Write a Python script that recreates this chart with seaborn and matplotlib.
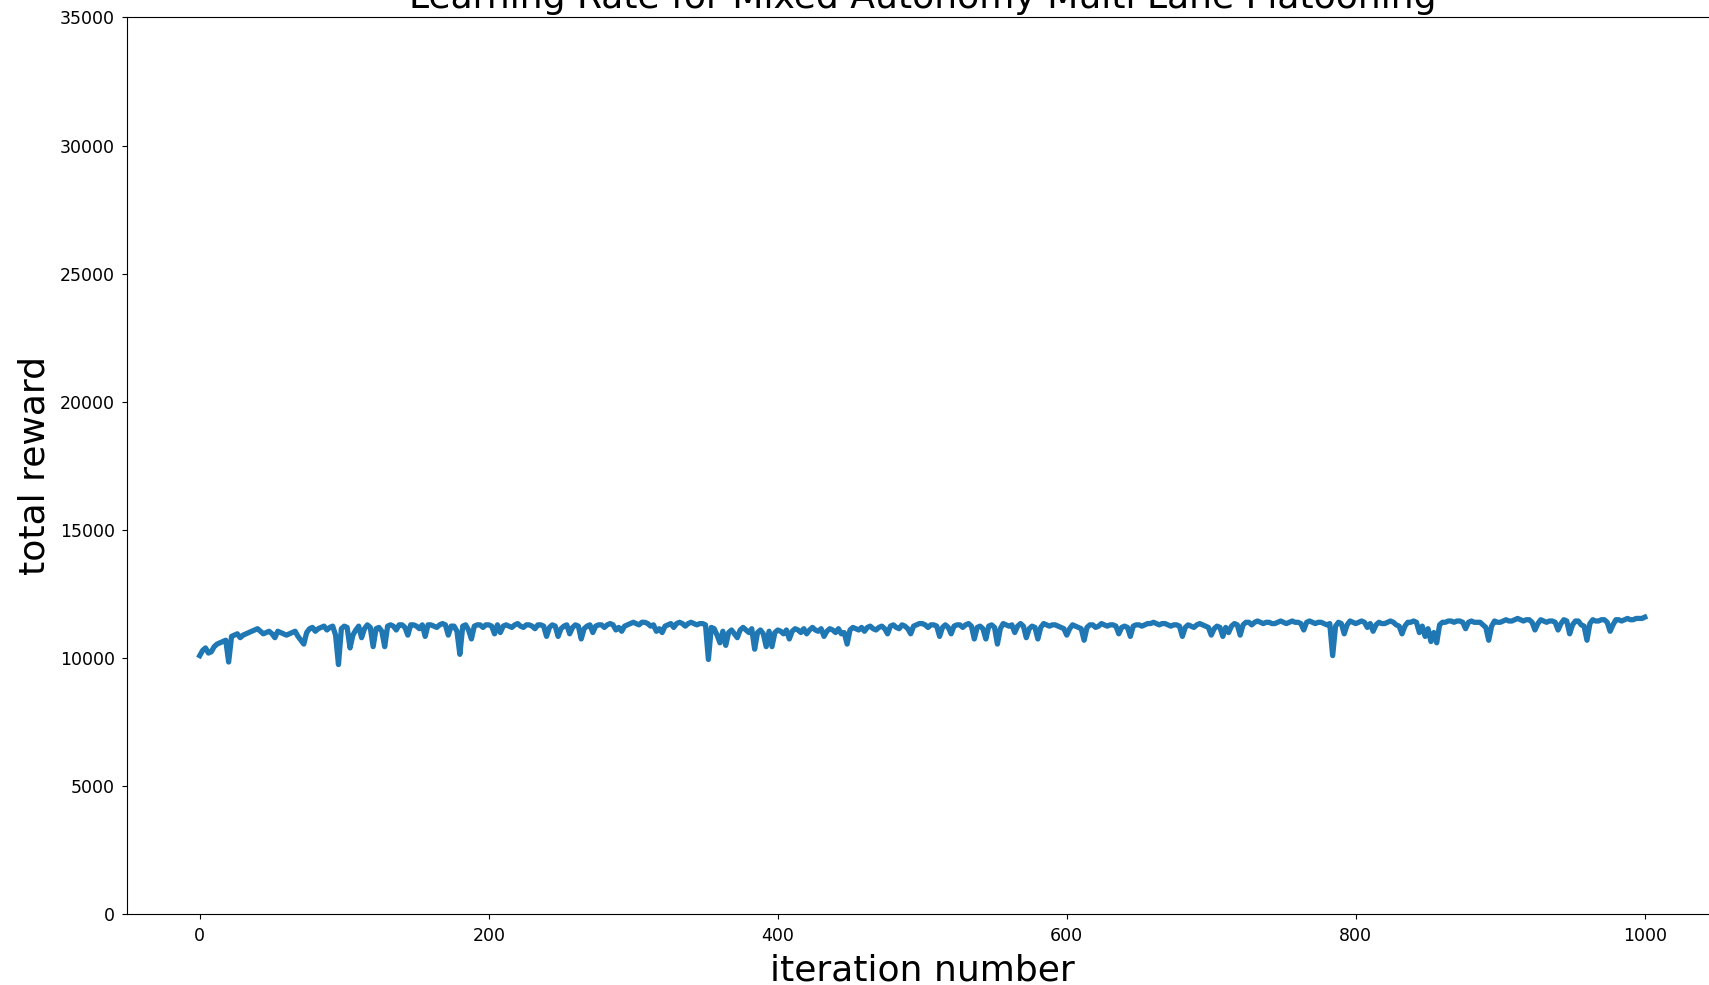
import numpy as np
import pandas as pd
import matplotlib
matplotlib.use("Agg")
import matplotlib.pyplot as plt
import seaborn as sns

# iteration numbers: readings every 4 iterations, plus readings half-way between
iter_main = list(range(0, 1001, 4))
iter_mid = list(range(2, 1000, 4))

# total reward at iterations 0, 4, 8, ... (per 100 iterations)
reward_000 = [10100, 10400, 10250, 10550, 10650, 9850, 10900, 10800, 10950, 11050,
              11150, 10950, 11050, 10800, 11000, 10900, 11000, 10850, 10550, 11150,
              11050, 11200, 11100, 11250, 9750]
reward_100 = [11250, 10400, 11100, 10800, 11300, 10450, 11200, 10450, 11300, 11100,
              11300, 10900, 11300, 11150, 10850, 11300, 11200, 11350, 10900, 11250,
              10150, 11300, 10750, 11300, 11200]
reward_200 = [11300, 10950, 11000, 11300, 11200, 11350, 11200, 11300, 11150, 11300,
              10850, 11300, 10850, 11250, 10950, 11300, 10750, 11250, 11000, 11300,
              11200, 11350, 11100, 11050, 11300]
reward_300 = [11400, 11300, 11400, 11250, 11050, 11000, 11300, 11200, 11400, 11250,
              11400, 11300, 11350, 9950, 11150, 10600, 10500, 11100, 10800, 11200,
              11000, 10350, 11100, 10450, 10450]
reward_400 = [11100, 10950, 10750, 11150, 11000, 10950, 11200, 11050, 10850, 11150,
              11000, 10950, 10550, 11200, 11100, 11050, 11250, 11100, 11250, 10950,
              11300, 11150, 11250, 10950, 11300]
reward_500 = [11350, 11200, 11300, 10850, 11300, 10950, 11300, 11200, 11350, 10750,
              11250, 10750, 11300, 10550, 11350, 11250, 11000, 11350, 10800, 11250,
              10750, 11350, 11250, 11300, 11200]
reward_600 = [10900, 11300, 11200, 10700, 11300, 11200, 11350, 11250, 11300, 10950,
              11250, 10850, 11300, 11250, 11350, 11400, 11300, 11350, 11250, 11300,
              10850, 11300, 11200, 11350, 11250]
reward_700 = [10900, 11250, 10850, 11000, 11350, 10900, 11400, 11300, 11450, 11350,
              11400, 11350, 11450, 11350, 11450, 11400, 11100, 11450, 11350, 11400,
              11300, 10100, 11400, 10950, 11450]
reward_800 = [11350, 11450, 11200, 11050, 11400, 11350, 11450, 11300, 10950, 11400,
              11450, 11000, 10850, 10650, 10600, 11400, 11450, 11400, 11450, 11150,
              11450, 11400, 11300, 10700, 11450]
reward_900 = [11400, 11500, 11450, 11550, 11450, 11500, 11100, 11500, 11400, 11450,
              11100, 11500, 10950, 11450, 11300, 10700, 11500, 11450, 11500, 11050,
              11500, 11450, 11550, 11500, 11550, 11600]

# total reward read at iterations 2, 6, 10, ... (per 100 iterations)
mid_000 = [10300, 10200, 10450, 10600, 10700, 10850, 10950, 10900, 11000, 11100,
           11050, 11000, 10950, 11050, 10950, 10950, 11050, 10700, 11000, 11200,
           11150, 11250, 11200, 10900, 11150]
mid_100 = [11200, 10900, 11250, 11150, 11200, 11150, 11050, 11250, 11250, 11300,
           11200, 11300, 11250, 11300, 11300, 11250, 11300, 11300, 11250, 11050,
           11250, 11100, 11250, 11300, 11300]
mid_200 = [11250, 11300, 11250, 11250, 11300, 11250, 11300, 11250, 11300, 11250,
           11200, 11250, 11150, 11300, 11200, 11250, 11150, 11300, 11250, 11300,
           11300, 11300, 11200, 11250, 11350]
mid_300 = [11350, 11400, 11350, 11300, 11150, 11250, 11350, 11350, 11350, 11350,
           11350, 11350, 11300, 11200, 10900, 11050, 11000, 10950, 11100, 11100,
           11150, 11000, 10950, 11050, 11000]
mid_400 = [11050, 11100, 11050, 11100, 11150, 11100, 11100, 11150, 11050, 11100,
           11150, 11000, 11100, 11150, 11200, 11200, 11150, 11200, 11150, 11250,
           11200, 11300, 11150, 11250, 11350]
mid_500 = [11300, 11300, 11250, 11200, 11200, 11250, 11300, 11300, 11250, 11200,
           11150, 11250, 11200, 11150, 11300, 11300, 11250, 11250, 11150, 11200,
           11200, 11300, 11300, 11250, 11150]
mid_600 = [11150, 11250, 11150, 11200, 11300, 11250, 11300, 11300, 11250, 11200,
           11200, 11250, 11300, 11300, 11350, 11350, 11350, 11300, 11300, 11250,
           11200, 11250, 11300, 11300, 11200]
mid_700 = [11150, 11200, 11200, 11250, 11300, 11300, 11400, 11400, 11400, 11400,
           11350, 11400, 11400, 11400, 11400, 11350, 11400, 11400, 11400, 11350,
           11350, 11250, 11350, 11300, 11400]
mid_800 = [11400, 11400, 11350, 11300, 11350, 11400, 11400, 11250, 11250, 11400,
           11400, 11250, 11150, 11000, 11300, 11400, 11450, 11450, 11400, 11400,
           11400, 11400, 11200, 11250, 11400]
mid_900 = [11450, 11450, 11500, 11500, 11500, 11400, 11350, 11450, 11450, 11400,
           11350, 11450, 11300, 11450, 11250, 11350, 11450, 11500, 11400, 11300,
           11500, 11500, 11500, 11550, 11550]

reward_main = (reward_000 + reward_100 + reward_200 + reward_300 + reward_400 +
               reward_500 + reward_600 + reward_700 + reward_800 + reward_900)
reward_mid = (mid_000 + mid_100 + mid_200 + mid_300 + mid_400 +
              mid_500 + mid_600 + mid_700 + mid_800 + mid_900)

y_ticks = [0, 5000, 10000, 15000, 20000, 25000, 30000, 35000]
x_ticks = [0, 200, 400, 600, 800, 1000]

df = pd.DataFrame({"iteration": iter_main + iter_mid,
                   "reward": reward_main + reward_mid}).sort_values("iteration")

fig = plt.figure(figsize=(17.09, 9.85), dpi=100)
ax = fig.add_axes([0.0746, 0.0716, 0.9301, 0.9107])

sns.lineplot(data=df, x="iteration", y="reward", ax=ax, color="#1f77b4",
             linewidth=3.8, sort=True, estimator=None)

ax.set_xlim(-50, 1050)
ax.set_ylim(0, 35000)
ax.set_yticks(y_ticks)
ax.set_xticks(x_ticks)
ax.tick_params(labelsize=12.5, pad=5.5)
ax.set_xlabel("iteration number", fontsize=26, labelpad=6)
ax.set_ylabel("total reward", fontsize=26, labelpad=6)
ax.set_title("Learning Rate for Mixed Autonomy Multi Lane Platooning", fontsize=26, pad=7)

fig.savefig("out.png", dpi=100)
